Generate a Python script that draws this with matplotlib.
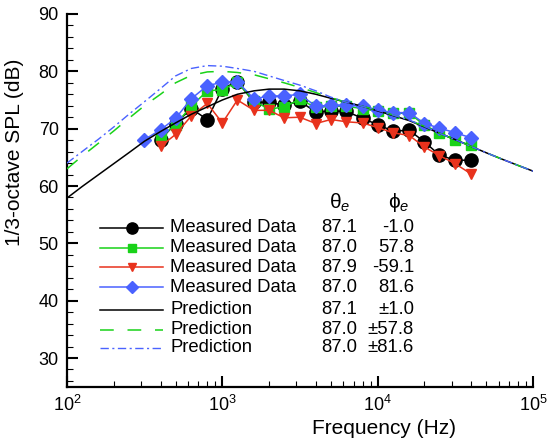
import numpy as np
import matplotlib.pyplot as plt
from matplotlib.lines import Line2D
from matplotlib.transforms import Affine2D
from matplotlib.ticker import LogLocator, MultipleLocator, NullFormatter

plt.rcParams['font.family'] = ['Liberation Sans', 'DejaVu Sans']
plt.rcParams['mathtext.fontset'] = 'custom'
plt.rcParams['mathtext.rm'] = 'Liberation Sans'
plt.rcParams['mathtext.it'] = 'Liberation Sans:italic'

# measured 1/3-octave bands (Hz)
freq_blue = [315, 400, 500, 630, 800, 1000, 1250, 1600, 2000, 2500, 3150, 4000,
             5000, 6300, 8000, 10000, 12500, 16000, 20000, 25000, 31500, 40000]
freq_meas = freq_blue[1:]

spl_black = [68.1, 70.9, 73.5, 71.6, 77.0, 78.2, 74.6, 74.6, 74.1, 74.8, 72.9,
             73.1, 73.0, 71.8, 70.7, 69.6, 69.7, 67.7, 65.4, 64.5, 64.5]
spl_green = [68.5, 70.7, 73.9, 76.6, 76.8, 78.1, 74.8, 73.4, 73.8, 75.1, 73.7,
             73.9, 73.9, 73.5, 73.0, 72.7, 72.7, 70.6, 69.3, 68.0, 67.1]
spl_red = [66.9, 69.0, 72.2, 74.4, 71.0, 75.0, 73.2, 73.2, 71.9, 72.0, 70.9,
           71.6, 71.2, 71.0, 70.2, 69.3, 68.8, 66.8, 65.3, 63.9, 62.1]
spl_blue = [68.1, 69.8, 71.8, 75.2, 77.5, 78.1, 78.2, 75.2, 75.7, 75.7, 76.0,
            73.9, 74.1, 74.1, 73.9, 73.3, 72.8, 72.8, 70.9, 70.1, 69.3, 68.4]

# predictions
freq_pred = [100, 125, 160, 200, 250, 315, 400, 500, 630, 800, 1000, 1250, 1600,
             2000, 2500, 3150, 4000, 5000, 6300, 8000, 10000, 12500, 16000,
             20000, 25000, 31500, 40000, 50000, 63000, 80000, 100000]
pred_black = [57.9, 59.9, 62.0, 63.9, 65.8, 67.8, 69.5, 71.0, 72.5, 73.8, 75.0,
              76.0, 76.6, 76.9, 76.9, 76.6, 76.0, 75.3, 74.6, 73.9, 73.1, 72.3,
              71.4, 70.3, 69.2, 68.1, 66.9, 65.8, 64.7, 63.6, 62.6]
pred_green = [63.0, 65.2, 67.5, 69.6, 71.8, 74.0, 76.0, 78.0, 79.3, 79.9, 80.0,
              79.8, 79.4, 78.7, 78.0, 77.2, 76.3, 75.4, 74.6, 73.9, 73.2, 72.4,
              71.5, 70.4, 69.2, 68.1, 66.9, 65.8, 64.7, 63.6, 62.6]
pred_blue = [64.0, 66.0, 68.2, 70.3, 72.5, 74.7, 77.0, 79.2, 80.5, 81.0, 80.9,
             80.5, 80.0, 79.2, 78.4, 77.6, 76.6, 75.5, 74.6, 73.9, 73.2, 72.4,
             71.5, 70.4, 69.2, 68.1, 66.9, 65.8, 64.7, 63.6, 62.6]

theta_vals = ['87.1', '87.0', '87.9', '87.0', '87.1', '87.0', '87.0']
phi_vals = ['-1.0', '57.8', '-59.1', '81.6', '\u00b11.0', '\u00b157.8', '\u00b181.6']
labels = ['Measured Data'] * 4 + ['Prediction'] * 3

GREEN = '#19d219'
RED = '#e8321c'
BLUE = '#4a62ff'

fig = plt.figure(figsize=(5.5, 4.41), dpi=100)
ax = fig.add_axes([67 / 550, 1 - 386.7 / 441, 466 / 550, 372.7 / 441])

styles = [
    dict(color='black', marker='o', ms=9.5, lw=1.1),
    dict(color=GREEN, marker='s', ms=6.5, lw=1.1),
    dict(color=RED, marker='v', ms=7.5, lw=1.1),
    dict(color=BLUE, marker='D', ms=6.8, lw=1.1),
    dict(color='black', ls='-', lw=1.1),
    dict(color=GREEN, ls=(0, (9, 9)), lw=1.1),
    dict(color=BLUE, ls=(0, (6, 2.5, 1.5, 2.5)), lw=1.0),
]

ax.plot(freq_meas, spl_black, zorder=2, **styles[0])
ax.plot(freq_meas, spl_green, zorder=3, **styles[1])
ax.plot(freq_meas, spl_red, zorder=4, **styles[2])
ax.plot(freq_blue, spl_blue, zorder=5, **styles[3])
ax.plot(freq_pred, pred_black, zorder=6, **styles[4])
ax.plot(freq_pred, pred_green, zorder=7, **styles[5])
ax.plot(freq_pred, pred_blue, zorder=8, **styles[6])

ax.set_xscale('log')
ax.set_xlim(100, 100000)
ax.set_ylim(25, 90)
ax.xaxis.set_major_locator(LogLocator(base=10, numticks=10))
ax.xaxis.set_minor_locator(LogLocator(base=10, subs=np.arange(2, 10), numticks=20))
ax.xaxis.set_minor_formatter(NullFormatter())
ax.yaxis.set_minor_locator(MultipleLocator(2))
ax.set_yticks(range(30, 91, 10))
ax.tick_params(which='major', direction='in', length=8, width=1.5, labelsize=13, pad=6)
ax.tick_params(which='minor', direction='in', length=4, width=0.8)
ax.spines['top'].set_visible(False)
ax.spines['right'].set_visible(False)
for s in ['left', 'bottom']:
    ax.spines[s].set_linewidth(1.6)

ax.set_xlabel('Frequency (Hz)', fontsize=15)
ax.xaxis.set_label_coords(0.68, -0.088)
ax.set_ylabel('1/3-octave SPL (dB)', fontsize=15)
ax.yaxis.set_label_coords(-0.092, 0.63)

# hand-made legend table (pixel positions from top-left)
pix = Affine2D().scale(1 / 550, -1 / 441).translate(0, 1) + fig.transFigure
rows_y = [228, 248, 267, 287, 310, 330, 348]
for i, y in enumerate(rows_y):
    st = dict(styles[i])
    mk = st.pop('marker', None)
    ms = st.pop('ms', None)
    fig.add_artist(Line2D([100, 163], [y, y], transform=pix, **st))
    if mk:
        fig.add_artist(Line2D([131.5], [y], transform=pix, marker=mk, ms=ms * 0.85,
                              color=st['color'], lw=0))
    fig.text(170 / 550, 1 - y / 441, labels[i], fontsize=13.3, va='center')
    fig.text(321 / 550, 1 - y / 441, theta_vals[i], fontsize=13.3, va='center')
    fig.text(414 / 550, 1 - y / 441, phi_vals[i], fontsize=13.3, va='center', ha='right')

fig.text(340 / 550, 1 - 203 / 441, '\u03b8$_e$', fontsize=15, ha='center', va='center')
fig.text(399 / 550, 1 - 203 / 441, '\u03d5$_e$', fontsize=15, ha='center', va='center')

fig.savefig('out.png', dpi=100)
